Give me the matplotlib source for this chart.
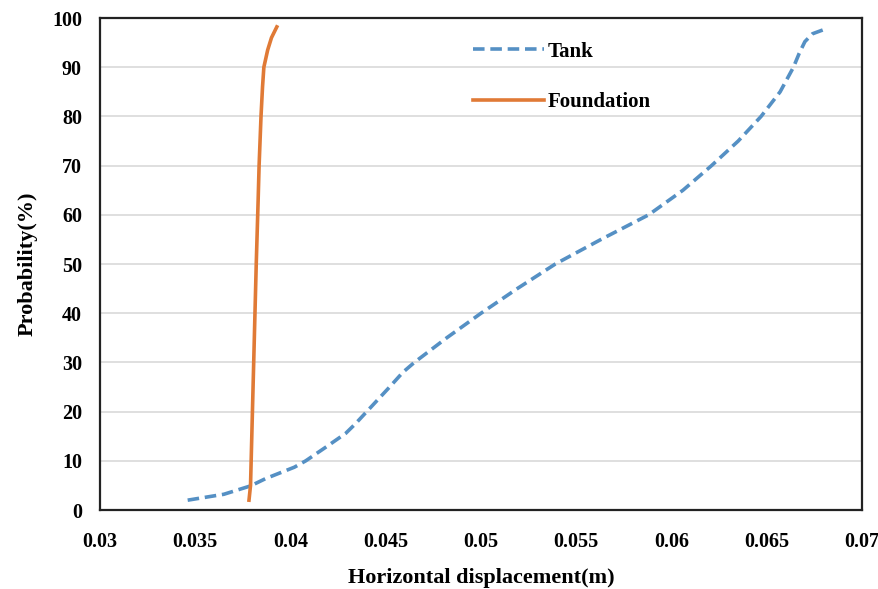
import matplotlib
matplotlib.use("Agg")
import matplotlib.pyplot as plt

# Cumulative probability curves
tank_disp = [0.0346, 0.0365, 0.0379, 0.0387, 0.0402, 0.0408, 0.0419, 0.0429,
             0.0434, 0.0440, 0.0452, 0.0459, 0.0465, 0.0482, 0.0500, 0.0519,
             0.0539, 0.0563, 0.0588, 0.0606, 0.0621, 0.0635, 0.0647, 0.0657,
             0.0664, 0.0667, 0.0670, 0.0674, 0.0681]
tank_prob = [2, 3.2, 4.9, 6.4, 8.7, 10, 12.9, 15.6,
             17.5, 20, 25, 28, 30, 35, 40, 45,
             50, 55, 60, 65, 70, 75, 80, 85,
             90, 92.8, 95.2, 96.8, 97.8]

found_disp = [0.03782, 0.0379, 0.0380, 0.0381, 0.0382, 0.0383, 0.03835,
              0.03845, 0.03853, 0.0386, 0.0388, 0.0390, 0.03928]
found_prob = [2, 5, 20, 35, 50, 63, 70, 80, 86, 90, 93.5, 96, 98.2]

x_ticks = [0.03, 0.035, 0.04, 0.045, 0.05, 0.055, 0.06, 0.065, 0.07]
x_tick_labels = ["0.03", "0.035", "0.04", "0.045", "0.05", "0.055", "0.06", "0.065", "0.07"]
y_ticks = [0, 10, 20, 30, 40, 50, 60, 70, 80, 90, 100]

plt.rcParams["font.family"] = ["Liberation Serif", "DejaVu Serif"]
plt.rcParams["font.weight"] = "bold"

fig = plt.figure(figsize=(8.79, 5.89), dpi=100)
ax = fig.add_axes([0.1138, 0.1341, 0.8669, 0.8353])

ax.plot(tank_disp, tank_prob, linestyle=(0, (3.2, 1.6)), color="#5590c4",
        linewidth=2.6, label="Tank", solid_joinstyle="round")
ax.plot(found_disp, found_prob, linestyle="-", color="#e07a36",
        linewidth=2.6, label="Foundation", solid_joinstyle="round")

ax.set_xlim(0.03, 0.07)
ax.set_ylim(0, 100)
ax.set_xticks(x_ticks)
ax.set_xticklabels(x_tick_labels)
ax.set_yticks(y_ticks)
ax.tick_params(length=0, labelsize=14.5)
ax.tick_params(axis="x", pad=16)
ax.tick_params(axis="y", pad=13)
for lab in ax.get_xticklabels() + ax.get_yticklabels():
    lab.set_fontweight("bold")

ax.grid(True, axis="y", color="#d9d9d9", linewidth=1.2)
ax.set_axisbelow(True)
for sp in ax.spines.values():
    sp.set_linewidth(1.6)
    sp.set_color("#222222")

ax.set_xlabel("Horizontal displacement(m)", fontsize=16, fontweight="bold", labelpad=11)
ax.set_ylabel("Probability(%)", fontsize=16, fontweight="bold", labelpad=10)

leg = ax.legend(loc="upper left", bbox_to_anchor=(0.465, 0.99), frameon=False,
                fontsize=15, handlelength=3.4, handletextpad=0.2,
                labelspacing=1.45)
for t in leg.get_texts():
    t.set_fontweight("bold")

fig.savefig("out.png", dpi=100)
